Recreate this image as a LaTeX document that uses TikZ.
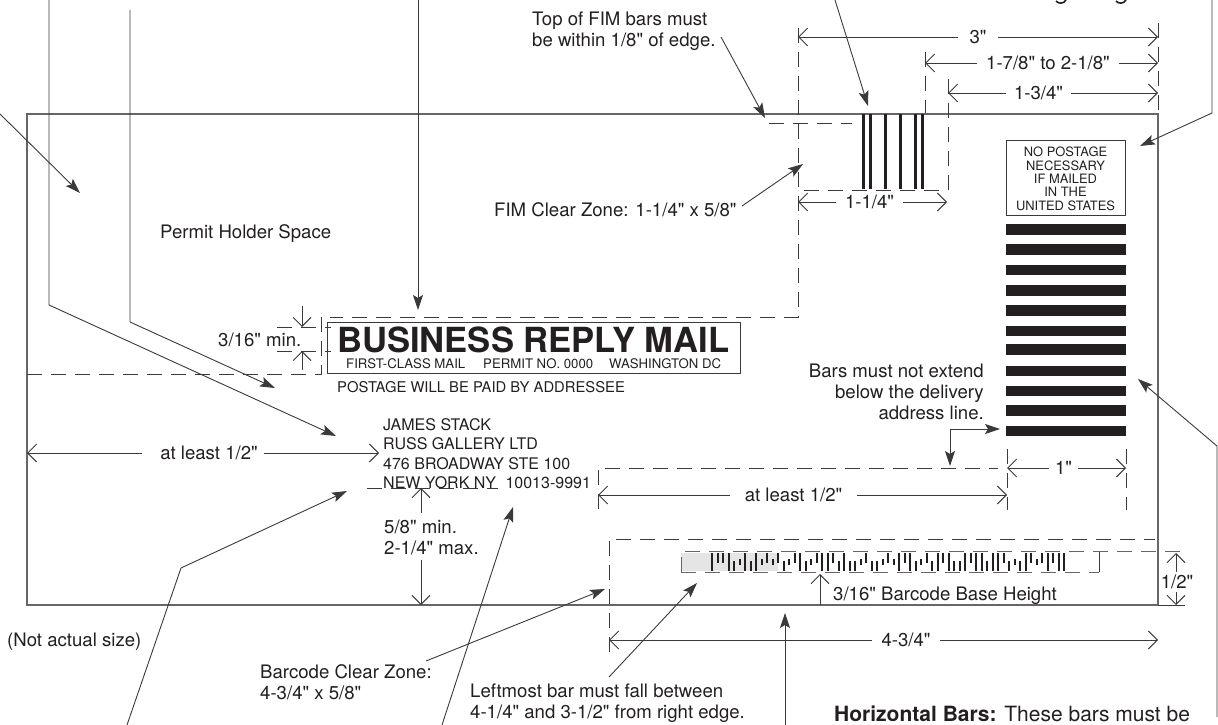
\documentclass[tikz,border=0pt]{standalone}
\usepackage{fontspec}
\newfontfamily\helv{TeX Gyre Heros}
\usetikzlibrary{arrows.meta}
\definecolor{ink}{HTML}{231F20}
\definecolor{rule}{HTML}{3A3A3A}
\definecolor{edgegray}{HTML}{666666}
\tikzset{
  txt/.style={inner sep=0pt,text=ink,font=\helv\fontsize{18.6}{21}\selectfont,align=left},
  dimlab/.style={inner xsep=0pt,inner ysep=0pt,text=ink,font=\helv\fontsize{18.6}{21}\selectfont,text height=13pt,text depth=0pt},
  envelope/.style={draw=edgegray,line width=1.2pt},
  leader/.style={draw=rule,line width=0.9pt,-{Stealth[length=15pt,width=10pt,inset=3pt]}},
  plainline/.style={draw=rule,line width=0.9pt},
  dimarrow/.style={draw=rule,line width=0.9pt,-{Straight Barb[length=9pt,width=18pt]}},
  dashline/.style={draw=rule,line width=0.9pt,dash pattern=on 15pt off 9pt},
  barf/.style={fill=ink,draw=none},
  fimbar/.style={draw=ink,line width=3pt}
}
\begin{document}
\begin{tikzpicture}[x=1pt,y=-1pt]
\useasboundingbox (0,0) rectangle (1218,725);
% envelope
\draw[envelope] (27,114) rectangle (1158,605);

% coordinates
\coordinate (t1a) at (0,114); \coordinate (t1b) at (80,193);
\coordinate (t2a) at (49,0); \coordinate (t2b) at (49,305); \coordinate (t2c) at (336,436);
\coordinate (t3a) at (130,10); \coordinate (t3b) at (130,322); \coordinate (t3c) at (275,388);
\coordinate (t4a) at (418,0); \coordinate (t4b) at (418,310);

% dashed zones
\draw[dashline] (798,28) -- (798,317) -- (330,317);
\draw[dashline] (925,52) -- (925,113);
\draw[dashline] (948,79) -- (948,190) -- (798,190);
\draw[dashline] (1158,23) -- (1158,113);
\draw[dashline] (769,123) -- (852,123);
\draw[dashline] (321,317) -- (321,374) -- (27,374);
\draw[dashline] (277,327) -- (331,327);
\draw[dashline] (277,351) -- (331,351);
\draw[dashline] (367,488) -- (498,488);
\draw[dashline] (598,509) -- (598,468) -- (998,468);
\draw[dashline] (1007,449) -- (1007,510);
\draw[dashline] (1126,449) -- (1126,510);
\draw[dashline] (609,652) -- (609,539) -- (1155,539);

% FIM bars
\foreach \fx in {863,870,885,900,915,922}{\draw[fimbar] (\fx,114) -- (\fx,189);}

% barcode
\fill[gray!20!white] (681,553) rectangle (778,571);
\draw[dashline,line width=0.8pt,draw=edgegray] (681,572) -- (681,551.5) -- (1185,551.5);
\draw[dashline,line width=0.8pt,draw=edgegray] (681,572.5) -- (1099,572.5);
\foreach \c [count=\i from 0] in {0,1,1,0,2,3,0,2,0,3,1,3,1,2,3,1,0,2,3,1,0,0,1,2,0,2,2,3,1,2,2,3,1,3,0,1,0,2,3,1,2,0,1,0,2,2,0,1,0,0,2,0,0,1,2,3,2,0,1,3,1,0,1,0,0}{
  \pgfmathsetmacro{\xa}{712+5.5*\i}
  \pgfmathsetmacro{\ya}{{553,553,561,559}[\c]}
  \pgfmathsetmacro{\yb}{{571,563,571,565}[\c]}
  \draw[ink,line width=2pt] (\xa,\ya) -- (\xa,\yb);
}
\draw[plainline] (1099,552) -- (1099,572);
\draw[plainline] (1158,605) -- (1185,605);

% horizontal bars
\foreach \ya/\yb in {224/235,244/255,265/275,285/296,305/316,326/336,344/355,366/376,386/396,405/416,426/436}{
  \fill[barf] (1006,\ya) rectangle (1126,\yb);
}

% indicia box
\node[draw=rule,line width=1pt,minimum width=119pt,minimum height=75pt,inner sep=0pt] (npbox) at (1065.5,177.5) {};
\node[inner sep=0pt,text=ink,font=\helv\fontsize{12.9}{13.3}\selectfont,align=center,anchor=north] (nptext) at (1065.5,147) {NO POSTAGE\\NECESSARY\\IF MAILED\\IN THE\\UNITED STATES};

% BRM box
\node[draw=rule,line width=1pt,minimum width=413pt,minimum height=51pt,inner sep=0pt] (brmbox) at (533.5,347.5) {};
\node[inner sep=0pt,text=ink,font=\helv\fontsize{34.6}{35}\selectfont\bfseries,anchor=base west] (brm) at (337,352) {BUSINESS REPLY MAIL};
\node[inner sep=0pt,text=ink,font=\helv\fontsize{13.2}{14}\selectfont,anchor=base west] (fc) at (346,368) {FIRST-CLASS MAIL};
\node[inner sep=0pt,text=ink,font=\helv\fontsize{13.2}{14}\selectfont,anchor=base west] (pn) at (483,368) {PERMIT NO. 0000};
\node[inner sep=0pt,text=ink,font=\helv\fontsize{13.2}{14}\selectfont,anchor=base west] (wd) at (609,368) {WASHINGTON DC};
\node[inner sep=0pt,text=ink,font=\helv\fontsize{14.8}{16}\selectfont,anchor=base west] (postage) at (337,392.5) {POSTAGE WILL BE PAID BY ADDRESSEE};
\node[inner sep=0pt,text=ink,font=\helv\fontsize{16}{19.6}\selectfont,align=left,anchor=north west] (addr) at (383,418) {JAMES STACK\\RUSS GALLERY LTD\\476 BROADWAY STE 100\\NEW YORK NY\hspace{5pt} 10013-9991};

% plain text
\node[txt,anchor=base west] (permit) at (160,238) {Permit Holder Space};
\node[txt,anchor=north west] (topfim) at (532,12) {Top of FIM bars must\\be within 1/8" of edge.};
\node[txt,anchor=base west] (fimcz) at (494,216) {FIM Clear Zone: 1-1/4" x 5/8"};
\node[txt,anchor=base west] (min316) at (218,346) {3/16" min.};
\node[txt,align=right,anchor=north east] (bars) at (984,364) {Bars must not extend\hspace{6pt}\\below the delivery\hspace{6pt}\\address line.};
\node[txt,anchor=north west] (fiveeighths) at (384,520) {5/8" min.\\2-1/4" max.};
\node[txt,anchor=base west] (base316) at (833,600) {3/16" Barcode Base Height};
\node[txt,anchor=base west] (notactual) at (7,646) {(Not actual size)};
\node[txt,anchor=north west] (bcz) at (260,664) {Barcode Clear Zone:\\4-3/4" x 5/8"};
\node[txt,anchor=north west] (leftmost) at (470,684) {Leftmost bar must fall between\\4-1/4" and 3-1/2" from right edge.};
\node[inner sep=0pt,text=ink,font=\helv\fontsize{21}{22}\selectfont,anchor=base west] (hbars) at (834,721.5) {\textbf{Horizontal Bars:} These bars must be};

% leaders from above / left
\draw[leader] (t1a) -- (t1b);
\draw[leader] (t2a) -- (t2b) -- (t2c);
\draw[leader] (t3a) -- (t3b) -- (t3c);
\draw[leader] (t4a) -- (t4b);
\coordinate (fa) at (835,0); \coordinate (fb) at (868,106);
\draw[leader] (fa) -- (fb);
\coordinate (ta) at (721,37); \coordinate (tb) at (765,118);
\draw[leader] (ta) -- (tb);
\coordinate (fca) at (742,206); \coordinate (fcb) at (803,164);
\draw[leader] (fca) -- (fcb);
\coordinate (ia) at (1212,0); \coordinate (ib) at (1212,113); \coordinate (ic) at (1140,146);
\draw[leader] (ia) -- (ib) -- (ic);
\coordinate (ha) at (1217,717); \coordinate (hb) at (1217,446); \coordinate (hc) at (1138,379);
\draw[leader] (ha) -- (hb) -- (hc);
\coordinate (ea) at (950,429); \coordinate (eb) at (1000,429); \coordinate (ec) at (950,466);
\draw[leader] (ea) -- (eb);
\draw[leader] (ea) -- (ec);
\coordinate (na) at (127,725); \coordinate (nb) at (181,568); \coordinate (nc) at (347,491);
\draw[leader] (na) -- (nb) -- (nc);
\coordinate (za) at (442,725); \coordinate (zb) at (513,507);
\draw[leader] (za) -- (zb);
\coordinate (ba) at (426,661); \coordinate (bb) at (605,589);
\draw[leader] (ba) -- (bb);
\coordinate (la) at (609,677); \coordinate (lb) at (697,583);
\draw[leader] (la) -- (lb);
\coordinate (ua) at (785,725); \coordinate (ub) at (785,613);
\draw[leader] (ua) -- (ub);

% dimensions
\node[dimlab,minimum width=40pt] (d3) at (978,37) {3"};
\coordinate (d3l) at (798,37); \coordinate (d3r) at (1158,37);
\draw[dimarrow] (d3) -- (d3l); \draw[dimarrow] (d3) -- (d3r);
\node[dimlab,minimum width=142pt] (d178) at (1048,63) {1-7/8" to 2-1/8"};
\coordinate (d178l) at (925,63); \coordinate (d178r) at (1158,63);
\draw[dimarrow] (d178) -- (d178l); \draw[dimarrow] (d178) -- (d178r);
\node[dimlab,minimum width=65pt] (d134) at (1038.5,93) {1-3/4"};
\coordinate (d134l) at (948,93); \coordinate (d134r) at (1158,93);
\draw[dimarrow] (d134) -- (d134l); \draw[dimarrow] (d134) -- (d134r);
\node[dimlab,minimum width=67pt] (d114) at (869.5,202) {1-1/4"};
\coordinate (d114l) at (798,202); \coordinate (d114r) at (947,202);
\draw[dimarrow] (d114) -- (d114l); \draw[dimarrow] (d114) -- (d114r);
\node[dimlab,minimum width=29pt] (d1) at (1063.5,468) {1"};
\coordinate (d1l) at (1007,468); \coordinate (d1r) at (1126,468);
\draw[dimarrow] (d1) -- (d1l); \draw[dimarrow] (d1) -- (d1r);
\node[dimlab,minimum width=122pt] (al1) at (203,453) {\hspace*{12pt}at least 1/2"};
\coordinate (al1l) at (27,453); \coordinate (al1r) at (379,453);
\draw[dimarrow] (al1) -- (al1l); \draw[dimarrow] (al1) -- (al1r);
\node[dimlab,minimum width=127pt] (al2) at (793.5,495) {at least 1/2"};
\coordinate (al2l) at (598,495); \coordinate (al2r) at (1007,495);
\draw[dimarrow] (al2) -- (al2l); \draw[dimarrow] (al2) -- (al2r);
\node[dimlab,minimum width=68pt] (d434) at (906,640) {4-3/4"};
\coordinate (d434l) at (609,640); \coordinate (d434r) at (1158,640);
\draw[dimarrow] (d434) -- (d434l); \draw[dimarrow] (d434) -- (d434r);
\node[dimlab,minimum height=20pt,text height=13pt] (half) at (1177,582) {1/2"};
\coordinate (halft) at (1176,553); \coordinate (halfb) at (1176,605);
\draw[dimarrow] (half.north -| halft) -- (halft); \draw[dimarrow] (half.south -| halfb) -- (halfb);
% small vertical dimensions
\coordinate (s1a) at (302,306); \coordinate (s1b) at (302,327);
\coordinate (s2a) at (302,370); \coordinate (s2b) at (302,351);
\draw[dimarrow] (s1a) -- (s1b); \draw[dimarrow] (s2a) -- (s2b);
\coordinate (v1a) at (421,513); \coordinate (v1b) at (421,488);
\coordinate (v2a) at (421,560); \coordinate (v2b) at (421,605);
\draw[dimarrow] (v1a) -- (v1b); \draw[dimarrow] (v2a) -- (v2b);
\coordinate (b1a) at (820,605); \coordinate (b1b) at (820,574);
\draw[dimarrow] (b1a) -- (b1b);

% descenders of clipped heading text
\draw[ink,line width=1.6pt] (1056,1) .. controls (1058,4) and (1064,4) .. (1066,0);
\draw[ink,line width=1.6pt] (1116,1) .. controls (1118,4) and (1124,4) .. (1126,0);
\end{tikzpicture}
\end{document}
